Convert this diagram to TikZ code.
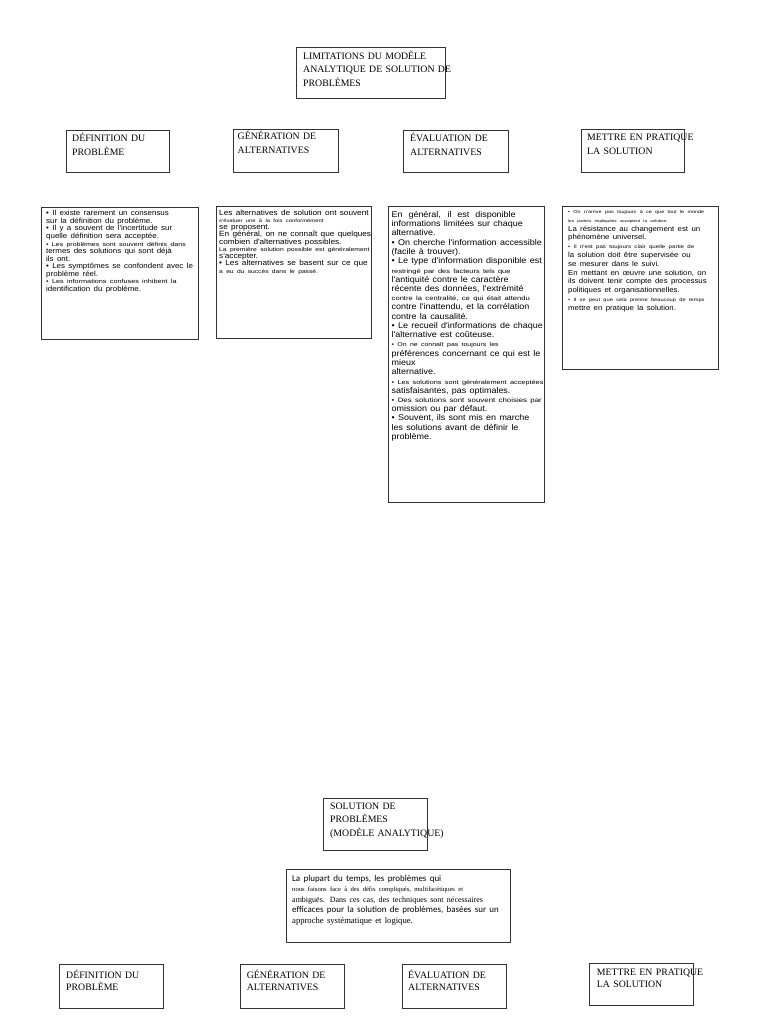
\documentclass[tikz,border=0pt]{standalone}
\usepackage{fontspec}
\setmainfont{Liberation Serif}
\newfontfamily\bodyfont[FakeStretch=1.08]{Liberation Sans}
\newfontfamily\smallfont[FakeStretch=1.25]{Liberation Sans}
\newfontfamily\calfont{Carlito}
\usetikzlibrary{calc}
\newcommand\bodyset[3]{\bodyfont\fontsize{#1}{#2}\selectfont\lineskiplimit=-50pt\lineskip=0pt\def\smsz{#3}}
\newcommand\sm[2][\smsz]{{\smallfont\fontsize{#1}{#1}\selectfont #2}}
\newcommand\headset[1]{\rmfamily\fontsize{9.8}{#1}\selectfont\lineskiplimit=-50pt\lineskip=0pt}
\newcommand\serifline[2]{{\rmfamily\fontsize{#1}{#1}\selectfont #2}}
\tikzset{
  box/.style={draw=black!80, line width=0.8pt, inner sep=0pt, outer sep=0pt, anchor=north west},
  head/.style={anchor=base west, inner sep=0pt, text width=200pt, align=left},
  body/.style={anchor=base west, inner sep=0pt, text width=230pt, align=left},
}
\begin{document}
\begin{tikzpicture}[x=1pt,y=-1pt]
\useasboundingbox[fill=white] (0,0) rectangle (768,1024);

% ---- top title
\node[box, minimum width=149pt, minimum height=51pt] (title) at (296,47) {};
\node[head] (titlet) at ($(title.north west)+(7,12.3)$) {\headset{13.6}LIMITATIONS DU MODÈLE\\ANALYTIQUE DE SOLUTION DE\\PROBLÈMES\par};

% ---- headers
\node[box, minimum width=103pt, minimum height=42pt] (h1) at (66,130) {};
\node[head] (h1t) at ($(h1.north west)+(6,11.3)$) {\headset{14}DÉFINITION DU\\PROBLÈME\par};
\node[box, minimum width=105pt, minimum height=43pt] (h2) at (233,129) {};
\node[head] (h2t) at ($(h2.north west)+(4.5,10.8)$) {\headset{14}GÉNÉRATION DE\\ALTERNATIVES\par};
\node[box, minimum width=105pt, minimum height=42pt] (h3) at (403,130) {};
\node[head] (h3t) at ($(h3.north west)+(7,11.5)$) {\headset{14}ÉVALUATION DE\\ALTERNATIVES\par};
\node[box, minimum width=103pt, minimum height=43pt] (h4) at (581,129) {};
\node[head] (h4t) at ($(h4.north west)+(6,11.5)$) {\headset{14}METTRE EN PRATIQUE\\LA SOLUTION\par};

% ---- content boxes
\node[box, minimum width=157pt, minimum height=132pt] (c1) at (41,207) {};
\node[body] (c1t) at ($(c1.north west)+(5,9)$) {\bodyset{7.35}{7.5}{5.7}%
• Il existe rarement un consensus\\
sur la définition du problème.\\
• Il y a souvent de l'incertitude sur\\
quelle définition sera acceptée.\\
\sm[5.6]{• Les problèmes sont souvent définis dans}\\
termes des solutions qui sont déjà\\
ils ont.\\
• Les symptômes se confondent avec le\\
problème réel.\\
\sm[5.8]{• Les informations confuses inhibent la}\\
identification du problème.\par};

\node[box, minimum width=155pt, minimum height=132pt] (c2) at (216,206) {};
\node[body] (c2t) at ($(c2.north west)+(3,9)$) {\bodyset{7.6}{7.25}{5.3}%
Les alternatives de solution ont souvent\\
\sm[4.7]{s'évaluer une à la fois conformément}\\
se proposent.\\
En général, on ne connaît que quelques\\
combien d'alternatives possibles.\\
\sm[5.45]{La première solution possible est généralement}\\
s'accepter.\\
• Les alternatives se basent sur ce que\\
\sm[5.35]{a eu du succès dans le passé.}\par};

\node[box, minimum width=156pt, minimum height=296pt] (c3) at (388,206) {};
\node[body] (c3t) at ($(c3.north west)+(3.5,11.5)$) {\bodyset{8.3}{9.25}{5.95}%
\makebox[124pt][s]{\spaceskip=2.5pt plus 20pt En général, il est disponible}\\
informations limitées sur chaque\\
alternative.\\
• On cherche l'information accessible\\
(facile à trouver).\\
• Le type d'information disponible est\\
\sm{restringé par des facteurs tels que}\\
l'antiquité contre le caractère\\
récente des données, l'extrémité\\
\sm[6.1]{contre la centralité, ce qui était attendu}\\
contre l'inattendu, et la corrélation\\
contre la causalité.\\
• Le recueil d'informations de chaque\\
l'alternative est coûteuse.\\
\sm[5.55]{• On ne connaît pas toujours les}\\
préférences concernant ce qui est le\\
mieux\\
alternative.\\
\sm[5.85]{• Les solutions sont généralement acceptées}\\
satisfaisantes, pas optimales.\\
\sm[6.3]{• Des solutions sont souvent choisies par}\\
omission ou par défaut.\\
• Souvent, ils sont mis en marche\\
les solutions avant de définir le\\
problème.\par};

\node[box, minimum width=156pt, minimum height=163pt] (c4) at (562,206) {};
\node[body] (c4t) at ($(c4.north west)+(6,7.5)$) {\bodyset{7.25}{8.8}{4.6}%
\sm[4.35]{• On n'arrive pas toujours à ce que tout le monde}\\
\sm[3.7]{les parties impliquées acceptent la solution.}\\
La résistance au changement est un\\
phénomène universel.\\
\sm[4.9]{• Il n'est pas toujours clair quelle partie de}\\
la solution doit être supervisée ou\\
se mesurer dans le suivi.\\
En mettant en œuvre une solution, on\\
ils doivent tenir compte des processus\\
politiques et organisationnelles.\\
\sm[4.55]{• Il se peut que cela prenne beaucoup de temps}\\
mettre en pratique la solution.\par};

% ---- bottom part
\node[box, minimum width=104pt, minimum height=52pt] (sol) at (323,798) {};
\node[head] (solt) at ($(sol.north west)+(7,11.3)$) {\headset{13.6}SOLUTION DE\\PROBLÈMES\\(MODÈLE ANALYTIQUE)\par};

\node[box, minimum width=224pt, minimum height=73pt] (intro) at (286,869) {};
\node[body] (introt) at ($(intro.north west)+(6,12)$) {\calfont\fontsize{8.95}{10.6}\selectfont\lineskiplimit=-50pt\lineskip=0pt%
La plupart du temps, les problèmes qui\\
\serifline{6.6}{nous faisons face à des défis compliqués, multifacétiques et}\\
\serifline{8}{ambiguës. Dans ces cas, des techniques sont nécessaires}\\
efficaces pour la solution de problèmes, basées sur un\\
\serifline{8.6}{approche systématique et logique.}\par};

\node[box, minimum width=104pt, minimum height=44pt] (b1) at (59,964) {};
\node[head] (b1t) at ($(b1.north west)+(7,14)$) {\headset{12.8}DÉFINITION DU\\PROBLÈME\par};
\node[box, minimum width=104pt, minimum height=44pt] (b2) at (240,964) {};
\node[head] (b2t) at ($(b2.north west)+(6.7,14)$) {\headset{12.8}GÉNÉRATION DE\\ALTERNATIVES\par};
\node[box, minimum width=104pt, minimum height=44pt] (b3) at (402,964) {};
\node[head] (b3t) at ($(b3.north west)+(6,14)$) {\headset{12.8}ÉVALUATION DE\\ALTERNATIVES\par};
\node[box, minimum width=104pt, minimum height=42pt] (b4) at (589,963) {};
\node[head] (b4t) at ($(b4.north west)+(7.7,12)$) {\headset{12.8}METTRE EN PRATIQUE\\LA SOLUTION\par};
\end{tikzpicture}
\end{document}
